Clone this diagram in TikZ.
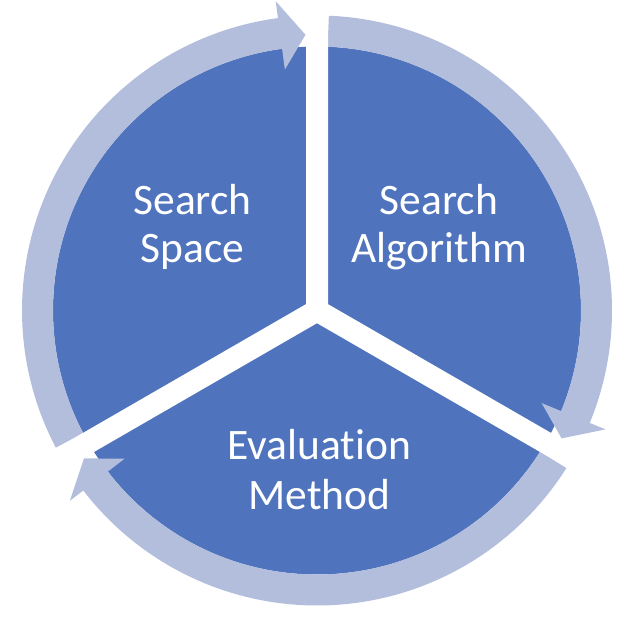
\documentclass[tikz,border=0pt]{standalone}
\usepackage{fontspec}
\setmainfont{Carlito}[Ligatures={NoCommon,NoRare}]
\definecolor{pieblue}{RGB}{79,116,189}
\definecolor{ringblue}{RGB}{179,190,221}
\begin{document}
\begin{tikzpicture}[x=1pt,y=1pt,
  piece/.style={fill=pieblue},
  ringarrow/.style={fill=ringblue},
  gapstrip/.style={draw=white,line width=22pt},
  lbl/.style={text=white,anchor=base,inner sep=0pt,font=\fontsize{43.5}{48}\selectfont}]
\useasboundingbox (0,0) rectangle (634,618);
\fill[white] (0,0) rectangle (634,618);
\coordinate (C) at (317,307.5);
\begin{scope}[shift={(C)}]
  % pie
  \fill[piece] (0,0) circle[radius=264];
  % three ring arrows (clockwise)
  \foreach \r in {0,-120,-240}{
    \begin{scope}[rotate=\r]
      \fill[ringarrow] (207.7:295) arc[start angle=207.7,end angle=97.6,radius=295]
        -- (97.6:312) -- (92.4:276) -- (97.6:243) -- (97.6:264)
        arc[start angle=97.6,end angle=207.7,radius=264] -- cycle;
    \end{scope}
  }
  % white gaps
  \coordinate (O) at (0,0);
  \coordinate (g1) at (90:330);
  \coordinate (g2) at (-30:330);
  \coordinate (g3) at (210:330);
  \draw[gapstrip] (g1) -- (O) -- (g2);
  \draw[gapstrip] (O) -- (g3);
  \fill[white] (O) circle[radius=11];
\end{scope}
% labels
\node[lbl] (ss1) at (192.5,403) {Search};
\node[lbl] (ss2) at (192.5,355) {Space};
\node[lbl] (sa1) at (439,403) {Search};
\node[lbl] (sa2) at (439,355) {Algorithm};
\node[lbl] (em1) at (319.5,158) {Evaluat\kern0pt ion};
\node[lbl] (em2) at (319.5,108) {Method};
\end{tikzpicture}
\end{document}
